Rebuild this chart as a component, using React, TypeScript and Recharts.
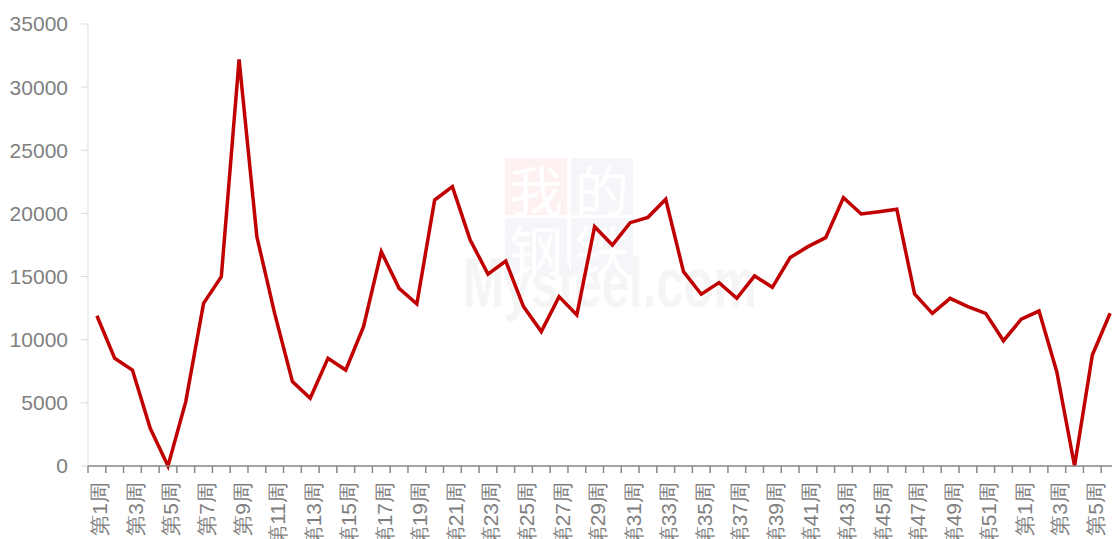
import React from 'react';
import { LineChart, Line, XAxis, YAxis } from 'recharts';

// weeks: year one 1..52, then the new year 1..6 (last one runs off the right edge)
const weeks = [
  '第1周', '第2周', '第3周', '第4周', '第5周', '第6周', '第7周', '第8周', '第9周', '第10周',
  '第11周', '第12周', '第13周', '第14周', '第15周', '第16周', '第17周', '第18周', '第19周', '第20周',
  '第21周', '第22周', '第23周', '第24周', '第25周', '第26周', '第27周', '第28周', '第29周', '第30周',
  '第31周', '第32周', '第33周', '第34周', '第35周', '第36周', '第37周', '第38周', '第39周', '第40周',
  '第41周', '第42周', '第43周', '第44周', '第45周', '第46周', '第47周', '第48周', '第49周', '第50周',
  '第51周', '第52周',
  '第1周', '第2周', '第3周', '第4周', '第5周', '第6周',
];

const values = [
  11900, 8530, 7600, 2980, 0, 5100, 12880, 14990, 32200, 18160,
  12090, 6680, 5360, 8530, 7600, 11030, 16970, 14070, 12830, 21060,
  22120, 17900, 15200, 16230, 12620, 10640, 13410, 11960, 18950, 17500,
  19270, 19690, 21120, 15390, 13600, 14520, 13280, 15050, 14150, 16500,
  17370, 18080, 21250, 19960, 20140, 20330, 13620, 12090, 13280, 12620,
  12090, 9920,
  11620, 12270, 7470, 0, 8790, 12100,
];

const yTicks = [0, 5000, 10000, 15000, 20000, 25000, 30000, 35000];

const data = weeks.map((week, i) => ({ week, v: values[i] }));

const LEFT = 88;
const PLOT_W = 1031;
const BAND = PLOT_W / weeks.length;
const GRAY = '#7f7f7f';

function WeekTick(props: any) {
  const { x, y, payload } = props;
  const i = payload?.index ?? props.index ?? 0;
  return (
    <g>
      <line x1={x - BAND / 2} x2={x - BAND / 2} y1={y} y2={y + 7} stroke="#898989" strokeWidth={1.5} />
      {i === weeks.length - 1 && (
        <line x1={x + BAND / 2} x2={x + BAND / 2} y1={y} y2={y + 7} stroke="#898989" strokeWidth={1.5} />
      )}
      {i % 2 === 0 && (
        <text
          transform={`translate(${x + 3},${y + 16}) rotate(-90)`}
          textAnchor="end"
          dominantBaseline="central"
          fontSize={21}
          fill={GRAY}
        >
          {payload.value}
        </text>
      )}
    </g>
  );
}

function Watermark() {
  const cell = (x: number, y: number, bg: string, ch: string) => (
    <g key={ch}>
      <rect x={x} y={y} width={62} height={57} fill={bg} />
      <text x={x + 31} y={y + 30} textAnchor="middle" dominantBaseline="central" fontSize={54}
        fill="#ffffff" fontFamily="Noto Sans CJK SC">{ch}</text>
    </g>
  );
  return (
    <svg width={1112} height={539} style={{ position: 'absolute', left: 0, top: 0 }}>
      <text x={463} y={307} fontSize={70} fontWeight="bold" fill="#f5f5f5"
        textLength={294} lengthAdjust="spacingAndGlyphs">Mysteel.com</text>
      {cell(505, 158, '#fdf1f1', '我')}
      {cell(571, 158, '#f5f6fa', '的')}
      {cell(505, 218, '#f5f6fa', '钢')}
      {cell(571, 218, '#f5f6fa', '铁')}
    </svg>
  );
}

export default function App() {
  return (
    <div style={{
      position: 'absolute', left: 0, top: 0, width: 1112, height: 539, overflow: 'hidden',
      background: '#fff', fontFamily: '"Liberation Sans", Arial, sans-serif',
    }}>
      <Watermark />
      <div style={{ position: 'absolute', left: 0, top: 0 }}>
        <LineChart width={LEFT + PLOT_W} height={539} data={data}
          margin={{ top: 24, right: 0, bottom: 0, left: 0 }}>
          <XAxis dataKey="week" interval={0} height={73} tickSize={0} tickMargin={0}
            padding={{ left: BAND / 2, right: BAND / 2 }}
            axisLine={{ stroke: '#898989', strokeWidth: 1.5 }} tickLine={false} tick={<WeekTick />} />
          <YAxis width={LEFT} domain={[0, 35000]} ticks={yTicks} tickSize={7} tickMargin={13}
            axisLine={{ stroke: '#d9d9d9' }} tickLine={{ stroke: '#d9d9d9' }}
            tick={{ fill: GRAY, fontSize: 21 }} />
          <Line type="linear" dataKey="v" stroke="#c00000" strokeWidth={3.5} dot={false}
            isAnimationActive={false} />
        </LineChart>
      </div>
    </div>
  );
}
